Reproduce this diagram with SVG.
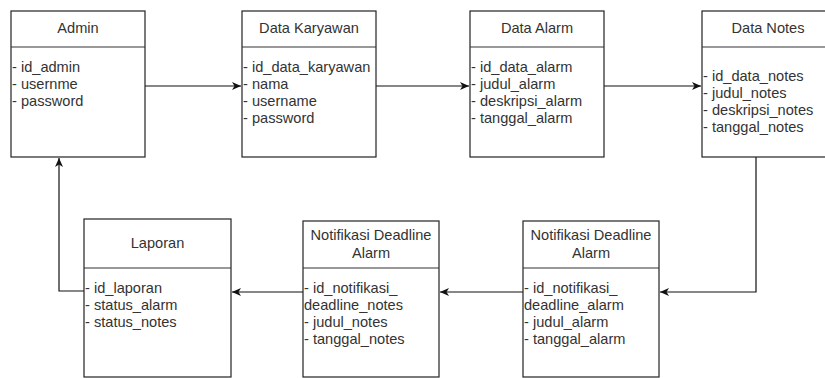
<svg xmlns="http://www.w3.org/2000/svg" width="825" height="378" viewBox="0 0 825 378">
<style>
.box{fill:#fff;stroke:#222;stroke-width:1.2}
.sep{stroke:#333;stroke-width:1.2}
.t{font-family:"Liberation Sans",Arial,sans-serif;font-size:14.6px;fill:#333}
.c{text-anchor:middle}
.ln{fill:none;stroke:#111;stroke-width:1.2}
</style>
<defs>
<marker id="ah" markerWidth="10" markerHeight="10" refX="9" refY="5" orient="auto" markerUnits="userSpaceOnUse">
<path d="M0,1 L9,5 L0,9 L2.5,5 Z" fill="#111"/>
</marker>
</defs>
<rect width="825" height="378" fill="#fff"/>
<g id="connectors">
<line class="ln" x1="145" y1="86" x2="241" y2="86" marker-end="url(#ah)"/>
<line class="ln" x1="376" y1="86" x2="469" y2="86" marker-end="url(#ah)"/>
<line class="ln" x1="604" y1="86" x2="701" y2="86" marker-end="url(#ah)"/>
<polyline class="ln" points="756,157 756,292 660,292" marker-end="url(#ah)"/>
<line class="ln" x1="523" y1="292" x2="440" y2="292" marker-end="url(#ah)"/>
<line class="ln" x1="303" y1="292" x2="232" y2="292" marker-end="url(#ah)"/>
<polyline class="ln" points="84,291 59,291 59,158" marker-end="url(#ah)"/>
</g>
<g id="admin">
<rect class="box" x="11" y="11" width="134" height="146"/>
<line class="sep" x1="11" y1="47" x2="145" y2="47"/>
<text class="t c" x="78" y="33">Admin</text>
<text class="t" x="12" y="72">- id_admin</text>
<text class="t" x="12" y="89">- usernme</text>
<text class="t" x="12" y="106">- password</text>
</g>
<g id="data-karyawan">
<rect class="box" x="242" y="11" width="134" height="146"/>
<line class="sep" x1="242" y1="47" x2="376" y2="47"/>
<text class="t c" x="309" y="33">Data Karyawan</text>
<text class="t" x="243" y="72">- id_data_karyawan</text>
<text class="t" x="243" y="89">- nama</text>
<text class="t" x="243" y="106">- username</text>
<text class="t" x="243" y="123">- password</text>
</g>
<g id="data-alarm">
<rect class="box" x="470" y="11" width="134" height="146"/>
<line class="sep" x1="470" y1="47" x2="604" y2="47"/>
<text class="t c" x="537" y="33">Data Alarm</text>
<text class="t" x="471" y="72">- id_data_alarm</text>
<text class="t" x="471" y="89">- judul_alarm</text>
<text class="t" x="471" y="106">- deskripsi_alarm</text>
<text class="t" x="471" y="123">- tanggal_alarm</text>
</g>
<g id="data-notes">
<rect class="box" x="702" y="11" width="134" height="146"/>
<line class="sep" x1="702" y1="47" x2="836" y2="47"/>
<text class="t c" x="768" y="33">Data Notes</text>
<text class="t" x="703" y="81">- id_data_notes</text>
<text class="t" x="703" y="98">- judul_notes</text>
<text class="t" x="703" y="115">- deskripsi_notes</text>
<text class="t" x="703" y="132">- tanggal_notes</text>
</g>
<g id="laporan">
<rect class="box" x="84" y="219" width="147" height="158"/>
<line class="sep" x1="84" y1="268" x2="231" y2="268"/>
<text class="t c" x="157.5" y="248">Laporan</text>
<text class="t" x="85" y="293">- id_laporan</text>
<text class="t" x="85" y="310">- status_alarm</text>
<text class="t" x="85" y="327">- status_notes</text>
</g>
<g id="notifikasi-notes">
<rect class="box" x="303" y="221" width="136" height="156"/>
<line class="sep" x1="303" y1="268" x2="439" y2="268"/>
<text class="t c" x="371" y="240">Notifikasi Deadline</text>
<text class="t c" x="371" y="258">Alarm</text>
<text class="t" x="304" y="293">- id_notifikasi_</text>
<text class="t" x="304" y="310">deadline_notes</text>
<text class="t" x="304" y="327">- judul_notes</text>
<text class="t" x="304" y="344">- tanggal_notes</text>
</g>
<g id="notifikasi-alarm">
<rect class="box" x="523" y="221" width="136" height="156"/>
<line class="sep" x1="523" y1="268" x2="659" y2="268"/>
<text class="t c" x="591" y="240">Notifikasi Deadline</text>
<text class="t c" x="591" y="258">Alarm</text>
<text class="t" x="524" y="293">- id_notifikasi_</text>
<text class="t" x="524" y="310">deadline_alarm</text>
<text class="t" x="524" y="327">- judul_alarm</text>
<text class="t" x="524" y="344">- tanggal_alarm</text>
</g>
</svg>
